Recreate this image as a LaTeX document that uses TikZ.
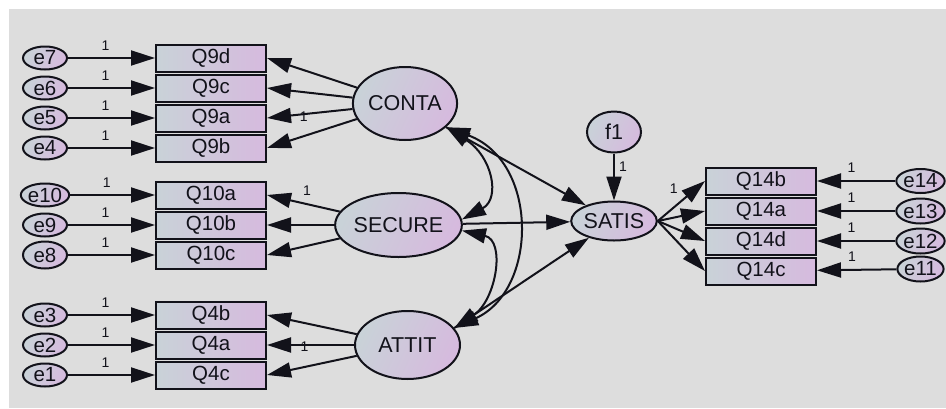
\documentclass[tikz,border=0pt]{standalone}
\usepackage{fontspec}
\setmainfont{Liberation Sans}
\usetikzlibrary{arrows.meta,shapes.geometric}

\definecolor{bgray}{RGB}{221,221,221}
\definecolor{fillL}{RGB}{201,210,216}
\definecolor{fillR}{RGB}{214,186,222}
\definecolor{ink}{RGB}{18,18,26}

\tikzset{
  x=1pt, y=-1pt,
  obs/.style={rectangle, draw=ink, line width=2pt, minimum width=110pt,
    minimum height=27pt, inner sep=0pt, left color=fillL, right color=fillR,
    font=\fontsize{20.5}{21}\selectfont, text=ink},
  lat/.style={ellipse, draw=ink, line width=2pt, inner sep=0pt,
    left color=fillL, right color=fillR, shading angle=65,
    font=\fontsize{21.5}{22}\selectfont, text=ink},
  err/.style={lat, minimum width=44pt, minimum height=23pt,
    font=\fontsize{20.5}{21}\selectfont},
  reg/.style={draw=ink, line width=2pt, -{Triangle[length=24pt,width=15pt]}},
  cov/.style={draw=ink, line width=2pt,
    {Triangle[length=24pt,width=15pt]}-{Triangle[length=24pt,width=15pt]}},
  lbl/.style={font=\fontsize{14}{14}\selectfont, text=ink, inner sep=0pt},
}

\begin{document}
\begin{tikzpicture}
% canvas
\useasboundingbox (0,0) rectangle (946,408);
\fill[white] (0,0) rectangle (946,408);
\fill[bgray] (9,9) rectangle (946,408);

% observed indicators, left blocks
\node[obs] (Q9d) at (211,58)  {Q9d};
\node[obs] (Q9c) at (211,88)  {Q9c};
\node[obs] (Q9a) at (211,118) {Q9a};
\node[obs] (Q9b) at (211,148) {Q9b};

\node[obs] (Q10a) at (211,195) {Q10a};
\node[obs] (Q10b) at (211,225) {Q10b};
\node[obs] (Q10c) at (211,255) {Q10c};

\node[obs] (Q4b) at (211,315) {Q4b};
\node[obs] (Q4a) at (211,345) {Q4a};
\node[obs] (Q4c) at (211,375) {Q4c};

% observed indicators, right block
\node[obs] (Q14b) at (761,181) {Q14b};
\node[obs] (Q14a) at (761,211) {Q14a};
\node[obs] (Q14d) at (761,241) {Q14d};
\node[obs] (Q14c) at (761,271) {Q14c};

% error terms
\node[err] (e7)  at (45,58)  {e7};
\node[err] (e6)  at (45,88)  {e6};
\node[err] (e5)  at (45,118) {e5};
\node[err] (e4)  at (45,148) {e4};
\node[err] (e10) at (45,195) {e10};
\node[err] (e9)  at (45,225) {e9};
\node[err, minimum height=27pt] (e8) at (45,255) {e8};
\node[err] (e3)  at (45,315) {e3};
\node[err] (e2)  at (45,345) {e2};
\node[err] (e1)  at (45,375) {e1};

\node[err, minimum width=45pt, minimum height=24pt] (e14) at (920.5,181) {e14};
\node[err, minimum width=45pt, minimum height=25pt] (e13) at (920.5,211) {e13};
\node[err, minimum width=45pt, minimum height=25pt] (e12) at (920.5,241) {e12};
\node[err, minimum width=45pt, minimum height=25pt] (e11) at (920.5,269) {e11};

% latent variables
\node[lat, minimum width=100pt, minimum height=73pt] (CONTA)  at (405,103.5) {CONTA};
\node[lat, minimum width=107pt, minimum height=64pt] (SECURE) at (398.5,225) {SECURE};
\node[lat, minimum width=105pt, minimum height=68pt] (ATTIT)  at (407.5,345) {ATTIT};
\node[lat, minimum width=76pt,  minimum height=39pt] (SATIS)  at (614,221) {SATIS};
\node[lat, minimum width=54pt,  minimum height=41pt] (f1)     at (614,132) {f1};

% error paths, left
\foreach \e/\q/\n in {e7/Q9d/a, e6/Q9c/b, e5/Q9a/c, e4/Q9b/d,
                      e10/Q10a/e, e9/Q10b/f, e8/Q10c/g,
                      e3/Q4b/h, e2/Q4a/i, e1/Q4c/j}
  \draw[reg] (\e) -- node[lbl, pos=0.43, yshift=12pt] (w\n) {1} (\q);

% error paths, right
\foreach \e/\q/\n in {e14/Q14b/a, e13/Q14a/b, e12/Q14d/c, e11/Q14c/d}
  \draw[reg] (\e) -- node[lbl, pos=0.56, yshift=13pt] (v\n) {1} (\q);

% loadings
\draw[reg] (CONTA) -- (Q9d.east);
\draw[reg] (CONTA) -- (Q9c.east);
\draw[reg] (CONTA) -- node[lbl, pos=0.57, yshift=-3pt] (lc) {1} (Q9a.east);
\draw[reg] (CONTA) -- (Q9b.east);

\draw[reg] (SECURE) -- node[lbl, pos=0.45, yshift=13pt] (ls) {1} (Q10a.east);
\draw[reg] (SECURE) -- (Q10b.east);
\draw[reg] (SECURE) -- (Q10c.east);

\draw[reg] (ATTIT) -- (Q4b.east);
\draw[reg] (ATTIT) -- node[lbl, pos=0.57, yshift=-2pt] (la) {1} (Q4a.east);
\draw[reg] (ATTIT) -- (Q4c.east);

\draw[reg] (SATIS.east) -- node[lbl, pos=0.34, yshift=19pt] (lq) {1} (Q14b.west);
\draw[reg] (SATIS.east) -- (Q14a.west);
\draw[reg] (SATIS.east) -- (Q14d.west);
\draw[reg] (SATIS.east) -- (Q14c.west);

% structural paths
\draw[reg] (f1) -- node[lbl, pos=0.29, xshift=9pt] (lf) {1} (SATIS);
\draw[reg] (CONTA.-30) -- (SATIS);
\draw[reg] (SECURE) -- (SATIS);
\draw[reg] (ATTIT.20) -- (SATIS);

% covariances
\draw[cov] (CONTA.-30) .. controls +(46,29) and +(39,-21) .. (SECURE.5);
\draw[cov] (SECURE.-5) .. controls +(44,10) and +(42,-28) .. (ATTIT.20);
\draw[cov] (CONTA.-30) .. controls +(93,34) and +(84,-38) .. (ATTIT.20);
\end{tikzpicture}
\end{document}
